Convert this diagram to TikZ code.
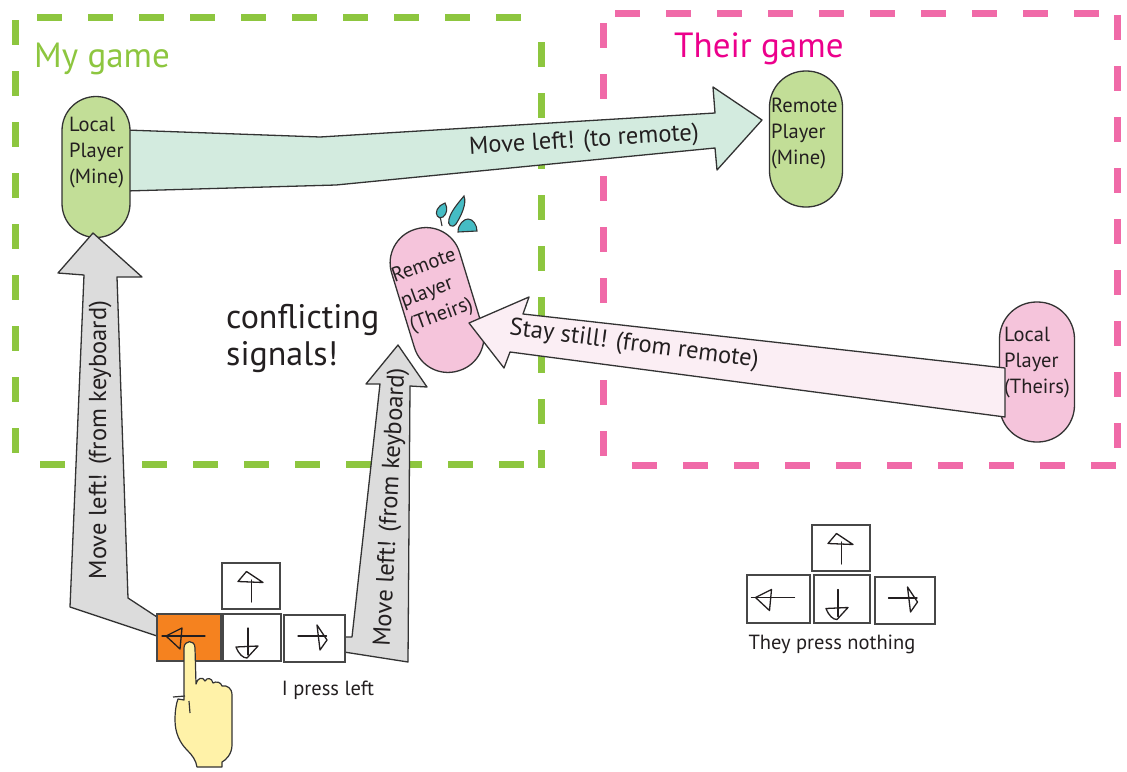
\documentclass[tikz,border=0pt]{standalone}
\usepackage{fontspec}
\setmainfont{PT Sans}
\usetikzlibrary{calc}

\definecolor{mygreen}{HTML}{8DC63F}
\definecolor{theirpink}{HTML}{F06AA8}
\definecolor{theirmagenta}{HTML}{EC008C}
\definecolor{pillgreen}{HTML}{C2DE97}
\definecolor{pillpink}{HTML}{F5C4DB}
\definecolor{arrowgreen}{HTML}{D3EBDF}
\definecolor{arrowpink}{HTML}{FBEEF4}
\definecolor{arrowgray}{HTML}{DCDCDC}
\definecolor{keyorange}{HTML}{F5821F}
\definecolor{handyellow}{HTML}{FFF2A8}
\definecolor{splash}{HTML}{45BCC4}
\definecolor{ink}{HTML}{333333}
\definecolor{txt}{HTML}{231F20}

\tikzset{
  gamebox/.style={line width=7pt, dash pattern=on 25pt off 26pt},
  outline/.style={draw=ink, line width=1.3pt, line join=round},
  pill/.style={outline, rectangle, inner sep=0pt},
  pilltext/.style={text=txt, align=left, inner sep=0pt, font=\fontsize{20.5}{26}\selectfont},
  blockarrow/.style={outline},
  arrowlabel/.style={text=txt, inner sep=0pt, font=\fontsize{24.5}{28}\selectfont},
  keybox/.style={draw=ink!90, line width=1.8pt, fill=white, inner sep=0pt},
  glyph/.style={draw=txt, line width=1.3pt, line join=round, line cap=round},
  caption/.style={text=txt, inner sep=0pt, font=\fontsize{20.5}{24}\selectfont},
  drop/.style={draw=ink, line width=1.1pt, fill=splash},
  title/.style={anchor=base west, inner sep=0pt, font=\fontsize{35}{38}\selectfont},
}

% arrow glyphs on the keys, drawn around the key centre
\newcommand\glyphLeftKey{%
  \draw[glyph] (-27,-1.5) -- (16,-1.5);
  \draw[glyph] (-23,-1.5) -- (-7,-9.5) -- (-9,11.5) -- cycle;}
\newcommand\glyphUpKey{%
  \draw[glyph] (0.5,-6) -- (0.5,16);
  \draw[glyph] (-13,-4.5) -- (-4.5,-14.5) -- (12,-3.5) -- cycle;}
\newcommand\glyphDownKey{%
  \draw[glyph] (-4,-9.5) -- (-4,17.5);
  \draw[glyph] (-16,9.5) .. controls (-13,17) and (-9,20.5) .. (-5,20.5) -- (6,8.5) -- cycle;}
\newcommand\glyphRightKey{%
  \draw[glyph] (-16.5,-2.5) -- (12,-2.5);
  \draw[glyph] (2.5,-13.5) -- (12.5,1.5) -- (5.5,11.5) -- cycle;}

\begin{document}
\begin{tikzpicture}[x=1pt,y=-1pt]
\useasboundingbox (0,0) rectangle (1127,771);

% ---- the two game areas ----
\draw[gamebox, mygreen] (15,20) -- (15,468);
\draw[gamebox, mygreen] (37,17) -- (540,17);
\draw[gamebox, mygreen] (541,42) -- (541,468);
\draw[gamebox, mygreen] (40,464) -- (541,464);
\node[title, text=mygreen] (mytitle) at (34,67) {My game};

\draw[gamebox, theirpink] (603,23) -- (603,468);
\draw[gamebox, theirpink] (615,13) -- (1117,13);
\draw[gamebox, theirpink] (1117,15) -- (1117,468);
\draw[gamebox, theirpink] (632,465) -- (1117,465);
\node[title, text=theirmagenta] (theirtitle) at (674,57) {Their game};

% ---- block arrows (behind the players) ----
\draw[blockarrow, fill=arrowgreen] (126,130) -- (320,137) -- (715,113) -- (713,87) -- (762,120) -- (717,170) -- (715,148) -- (336,185) -- (126,191) -- cycle;
\node[arrowlabel, rotate=3.5] (sendlabel) at (584,141) {Move left! (to remote)};

% ---- players ----
\node[pill, fill=pillgreen, rounded corners=34pt, minimum width=68, minimum height=141] (lpm) at (96,167) {};
\node[pilltext, anchor=west] (lpmtext) at (69,153) {Local\\Player\\(Mine)};

\node[pill, fill=pillgreen, rounded corners=36pt, minimum width=73, minimum height=136] (rpm) at (806,139) {};
\node[pilltext, anchor=west] (rpmtext) at (771,133) {Remote\\Player\\(Mine)};

\node[pill, fill=pillpink, rounded corners=37pt, minimum width=75, minimum height=140] (lpt) at (1037,372) {};
\node[pilltext, anchor=west] (lpttext) at (1004,363) {Local\\Player\\(Theirs)};

\node[pill, fill=pillpink, rounded corners=35pt, minimum width=71, minimum height=148, rotate=17] (rpt) at (437,300) {};
\node[pilltext, rotate=20] (rpttext) at (433,291) {Remote\\player\\(Theirs)};

% splash above the confused player
\draw[ink, line width=1.1pt] (440,216) -- (442,226);
\draw[drop] (445,203) .. controls (448,208) and (447,214) .. (443,217) .. controls (438,220) and (435,214) .. (437,210) .. controls (439,206) and (442,204) .. (445,203) -- cycle;
\draw[drop] (464,196) .. controls (467,204) and (461,216) .. (456,224) .. controls (452,229) and (447,225) .. (449,219) .. controls (451,211) and (459,202) .. (464,196) -- cycle;
\draw[drop] (458,232) .. controls (458,224) and (464,219) .. (468,219) .. controls (473,219) and (477,225) .. (477,231) -- cycle;

% ---- arrows that end at or start from the players ----
\draw[blockarrow, fill=arrowpink] (1005,368) -- (523,314) -- (529,297) -- (469,323) -- (504,368) -- (510,352) -- (1005,417) -- cycle;
\node[arrowlabel, rotate=-7.5] (stilllabel) at (634,345) {Stay still! (from remote)};

\draw[blockarrow, fill=arrowgray] (157,617) -- (128,598) -- (117,277) -- (142,277) -- (93,233) -- (58,273) -- (84,275) -- (70,607) -- (157,636) -- cycle;
\node[arrowlabel, rotate=90] (kbleft) at (100,440) {Move left! (from keyboard)};

\draw[blockarrow, fill=arrowgray] (344,637) -- (352,637) -- (380,384) -- (366,384) -- (398,345) -- (427,387) -- (410,386) -- (408,662) -- (344,652) -- cycle;
\node[arrowlabel, rotate=87] (kbright) at (391,507) {Move left! (from keyboard)};

\node[text=txt, align=left, anchor=north west, inner sep=0pt, font=\fontsize{34}{37}\selectfont] (conflict) at (226,304) {conflicting\\signals!};

% ---- my keyboard ----
\node[keybox, fill=keyorange, minimum width=64, minimum height=47] (myleft) at (189,637.5) {};
\node[keybox, minimum width=58, minimum height=46] (myup) at (251,586) {};
\node[keybox, minimum width=58, minimum height=47] (mydown) at (252,637.5) {};
\node[keybox, minimum width=61, minimum height=47] (myright) at (314.5,638.5) {};
\begin{scope}[shift={(myleft.center)}]\glyphLeftKey\end{scope}
\begin{scope}[shift={(myup.center)}]\glyphUpKey\end{scope}
\begin{scope}[shift={(mydown.center)}]\glyphDownKey\end{scope}
\begin{scope}[shift={(myright.center)}]\glyphRightKey\end{scope}
\node[caption] (mycaption) at (328,690) {I press left};

% pointing hand
\draw[outline, line width=1.2pt, fill=handyellow]
  (184,700) -- (184,648) .. controls (184,640) and (195,639) .. (195,648)
  -- (196,684) .. controls (197,678) and (203,676) .. (205,681)
  .. controls (207,677) and (212,678) .. (213,683)
  .. controls (216,681) and (221,682) .. (222,686)
  .. controls (227,685) and (232,688) .. (232,695)
  -- (232,745) .. controls (232,754) and (226,760) .. (222,762)
  -- (222,767) -- (197,767) .. controls (196,760) and (192,755) .. (187,750)
  .. controls (180,743) and (175,733) .. (175,720)
  .. controls (175,712) and (176,704) .. (178,699) -- cycle;
\draw[ink, line width=1.2pt] (173,697) -- (185,696);
\draw[ink, line width=1.2pt] (189,701) -- (190,713);

% ---- their keyboard ----
\node[keybox, minimum width=58, minimum height=46] (thup) at (841,548) {};
\node[keybox, minimum width=63, minimum height=48] (thleft) at (778.5,599) {};
\node[keybox, minimum width=56, minimum height=48] (thdown) at (842,599) {};
\node[keybox, minimum width=60, minimum height=47] (thright) at (905,600.5) {};
\begin{scope}[shift={(thleft.center)}]\glyphLeftKey\end{scope}
\begin{scope}[shift={(thup.center)}]\glyphUpKey\end{scope}
\begin{scope}[shift={(thdown.center)}]\glyphDownKey\end{scope}
\begin{scope}[shift={(thright.center)}]\glyphRightKey\end{scope}
\node[caption] (thcaption) at (832,644) {They press nothing};

\end{tikzpicture}
\end{document}
